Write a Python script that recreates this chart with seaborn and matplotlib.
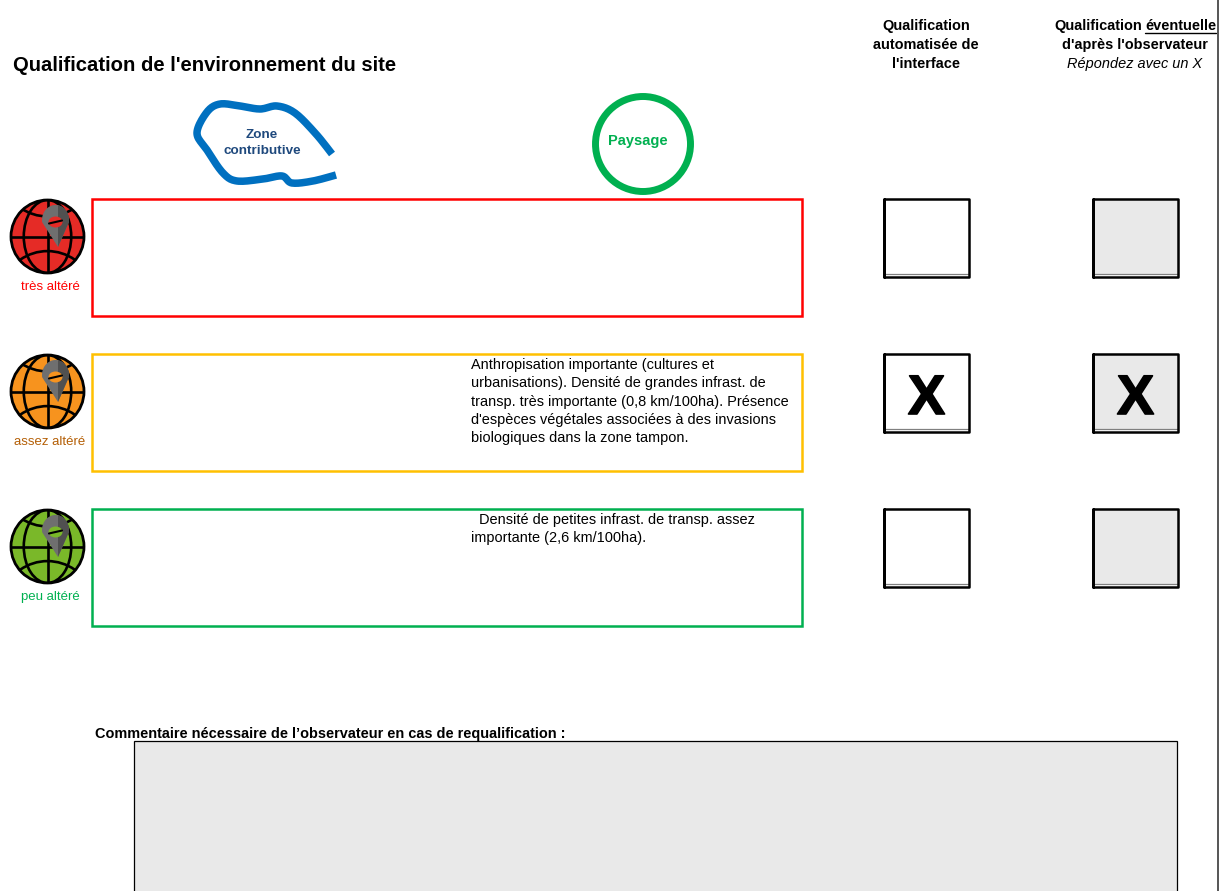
import numpy as np
import seaborn as sns
import matplotlib.pyplot as plt
import matplotlib.patheffects as pe
from matplotlib.patches import Rectangle, Circle, Ellipse, Arc, PathPatch, Polygon
from matplotlib.path import Path

sns.set_theme(style='white')
plt.rcParams['font.family'] = ['Liberation Sans', 'DejaVu Sans']

# the three levels, top to bottom
levels = ['très altéré', 'assez altéré', 'peu altéré']
level_colors = ['#ff0000', '#ffc000', '#00b050']
globe_colors = ['#e52b26', '#f7931e', '#7ab829']
label_colors = ['#ff0000', '#b45f06', '#00b050']
row_tops = [199, 354, 509]
auto_marks = ['', 'X', '']
observer_marks = ['', 'X', '']

# landscape text of each level, one entry per printed line
row_lines = [
    [],
    ['Anthropisation importante (cultures et',
     'urbanisations). Densité de grandes infrast. de',
     'transp. très importante (0,8 km/100ha). Présence',
     "d'espèces végétales associées à des invasions",
     'biologiques dans la zone tampon.'],
    ['  Densité de petites infrast. de transp. assez',
     'importante (2,6 km/100ha).'],
]

# hand traced outline of the "zone contributive" sign
zone_x = [332, 316, 295, 277, 260, 240, 220, 207, 197, 207, 223, 237, 263, 282, 292, 313, 336]
zone_y = [154, 134, 113, 106, 109, 106, 104, 112, 133, 150, 173, 181, 179, 176, 183, 181, 175]


def smooth(xs, ys, n=12):
    # catmull-rom through the traced points
    pts = np.column_stack([xs, ys]).astype(float)
    pts = np.vstack([pts[0], pts, pts[-1]])
    out = []
    for i in range(1, len(pts) - 2):
        for t in np.linspace(0, 1, n, endpoint=False):
            p0, p1, p2, p3 = pts[i - 1], pts[i], pts[i + 1], pts[i + 2]
            out.append(0.5 * (2 * p1 + (p2 - p0) * t + (2 * p0 - 5 * p1 + 4 * p2 - p3) * t ** 2
                              + (3 * p1 - p0 - 3 * p2 + p3) * t ** 3))
    out.append(pts[-1])
    return np.array(out)


def draw_globe(ax, cx, cy, color):
    r = 36.5
    face = Circle((cx, cy), r, fc=color, ec='none')
    ax.add_patch(face)
    grid = [Ellipse((cx, cy), r * 1.3, r * 2, fc='none', ec='black', lw=1.9),
            Arc((cx, cy - r * 1.85), r * 2.6, r * 2.6, theta1=20, theta2=160, fc='none', ec='black', lw=1.9),
            Arc((cx, cy + r * 1.7), r * 2.6, r * 2.6, theta1=200, theta2=340, fc='none', ec='black', lw=1.9)]
    for g in grid:
        ax.add_patch(g)
        g.set_clip_path(face)
    ax.plot([cx - r, cx + r], [cy, cy], color='black', lw=1.9, solid_capstyle='butt')
    ax.plot([cx, cx], [cy - r, cy + r], color='black', lw=1.9, solid_capstyle='butt')
    ax.add_patch(Circle((cx, cy), r, fc='none', ec='black', lw=2))

    # location pin on the globe, lighter left part and darker right part
    px, py = cx + 8, cy - 16.5
    theta = np.linspace(-0.15, np.pi + 0.15, 40)
    outline = np.column_stack([px + 13.5 * np.cos(theta), py - 15 * np.sin(theta)])
    outline = np.vstack([outline, [(cx + 10.5, cy + 10.5)]])
    ax.add_patch(Polygon(outline, fc='#6f6f6f', ec='none', zorder=3))
    dark = Polygon(outline, fc='#505050', ec='none', zorder=3)
    ax.add_patch(dark)
    dark.set_clip_path(Rectangle((cx + 10.5, cy - 40), 20, 60, transform=ax.transData))
    ax.add_patch(Ellipse((px, py + 2), 14, 11, fc=color, ec='none', zorder=4))
    ax.plot([px - 6.5, px + 6.5], [py + 3.5, py + 0.5], color='black', lw=1.5, zorder=5)


fig, ax = plt.subplots(figsize=(12.23, 8.91), dpi=100)
fig.subplots_adjust(0, 0, 1, 1)
ax.set_xlim(0, 1223)
ax.set_ylim(891, 0)
ax.axis('off')
sns.despine(ax=ax, left=True, bottom=True)

body = 10.45
# header
ax.text(13, 71, "Qualification de l'environnement du site", fontsize=14.55, fontweight='bold',
        color='black', va='baseline')
for y, line in zip([30, 49, 68], ['Qualification', 'automatisée de', "l'interface"]):
    ax.text(926, y, line, fontsize=body, fontweight='bold', color='black', ha='center', va='baseline')
ax.text(1054, 30, 'Qualification', fontsize=body, fontweight='bold', color='black', va='baseline')
ax.text(1145, 30, 'éventuelle', fontsize=body, fontweight='bold', color='black', va='baseline')
ax.plot([1145, 1216], [32.5, 32.5], color='black', lw=1)
ax.text(1135, 49, "d'après l'observateur", fontsize=body, fontweight='bold', color='black',
        ha='center', va='baseline')
ax.text(1135, 68, 'Répondez avec un X', fontsize=body, style='italic', color='black',
        ha='center', va='baseline')
ax.plot([1218, 1218], [0, 891], color='#555555', lw=1.4)

# signs above the table
zone = smooth(zone_x, zone_y)
ax.add_patch(PathPatch(Path(zone), fc='none', ec='#0070c0', lw=5.4, capstyle='butt'))
ax.text(262, 137.5, 'Zone', fontsize=9.7, fontweight='bold', color='#1f497d', ha='center', va='baseline')
ax.text(262, 153.5, 'contributive', fontsize=9.7, fontweight='bold', color='#1f497d', ha='center', va='baseline')
ax.add_patch(Circle((643, 144), 47.5, fc='none', ec='#00b050', lw=5))
ax.text(638, 145, 'Paysage', fontsize=10.5, fontweight='bold', color='#00b050', ha='center', va='baseline')

# one row per level
for i, top in enumerate(row_tops):
    ax.add_patch(Rectangle((92, top), 710, 117, fc='white', ec=level_colors[i], lw=1.8))
    draw_globe(ax, 47.5, top + 37.5, globe_colors[i])
    ax.text(50, top + 91, levels[i], fontsize=9.5, color=label_colors[i], ha='center', va='baseline')
    for k, line in enumerate(row_lines[i]):
        ax.text(471, top + 15 + k * 18.3, line, fontsize=body, color='black', va='baseline')
    for x0, fill, mark in [(884, 'white', auto_marks[i]), (1093, '#e9e9e9', observer_marks[i])]:
        ax.add_patch(Rectangle((x0, top), 85, 75.5, fc=fill, ec='none'))
        ax.plot([x0, x0 + 85], [top + 75, top + 75], color='#808080', lw=0.9)
        ax.plot([x0, x0, x0 + 85, x0 + 85, x0, x0], [top + 78, top, top, top + 78, top + 78, top],
                color='black', lw=1.8)
        if mark:
            ax.text(x0 + 42.5, top + 60, mark, fontsize=40, fontweight='bold', color='black',
                    ha='center', va='baseline',
                    path_effects=[pe.withStroke(linewidth=1.2, foreground='black')])

# comment box
ax.text(95, 738, "Commentaire nécessaire de l’observateur en cas de requalification :", fontsize=body,
        fontweight='bold', color='black', va='baseline')
ax.add_patch(Rectangle((134, 741), 1043, 160, fc='#e9e9e9', ec='black', lw=0.9))

fig.savefig('out.png', dpi=100)
